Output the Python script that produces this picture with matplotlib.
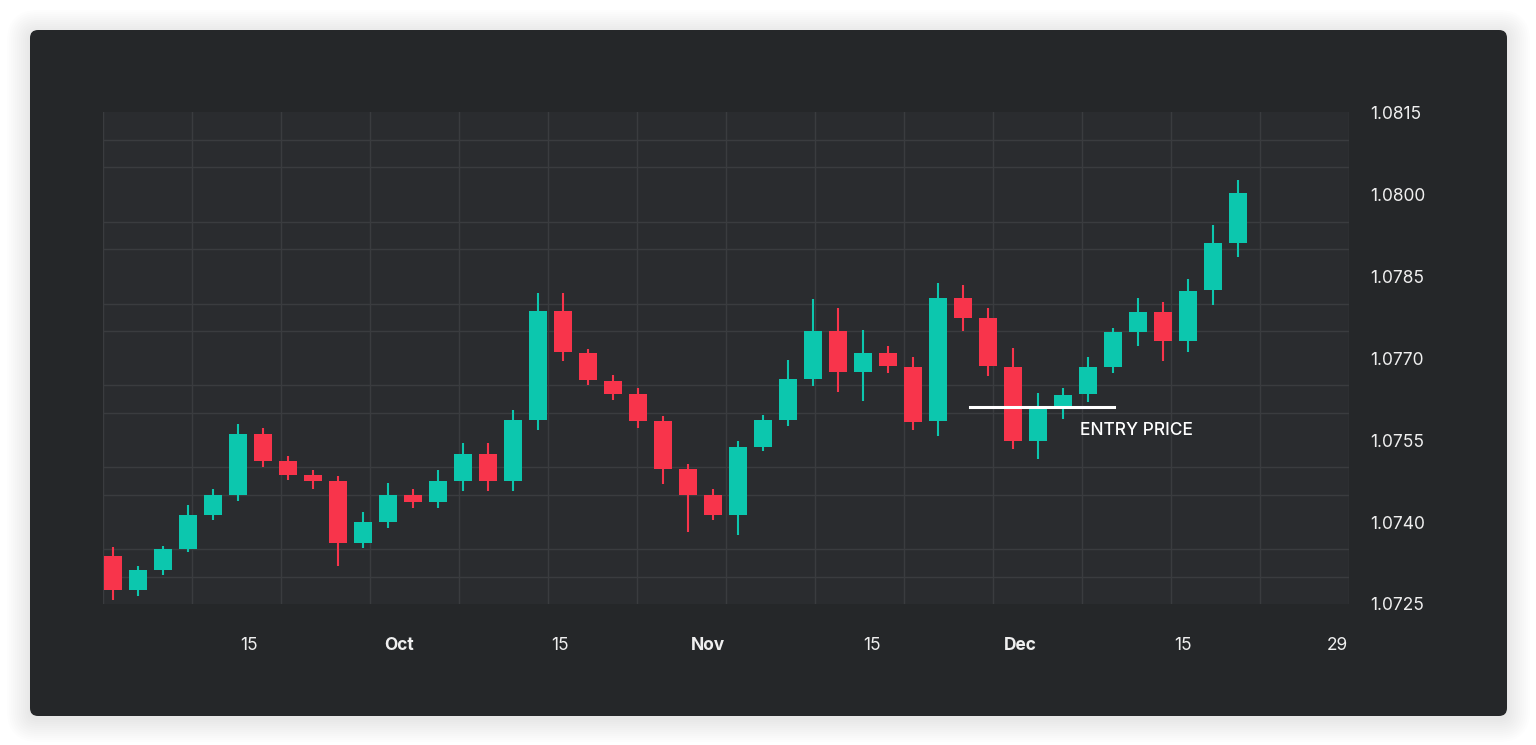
import numpy as np
import matplotlib.pyplot as plt
from matplotlib.patches import FancyBboxPatch

plt.rcParams['font.family'] = ['Inter', 'DejaVu Sans']

# daily candles
opens = [1.07337, 1.07275, 1.07312, 1.07350, 1.07412, 1.07450, 1.07561, 1.07512,
         1.07487, 1.07475, 1.07362, 1.07400, 1.07450, 1.07437, 1.07475, 1.07525,
         1.07475, 1.07587, 1.07786, 1.07709, 1.07659, 1.07635, 1.07585, 1.07498,
         1.07450, 1.07413, 1.07537, 1.07587, 1.07662, 1.07749, 1.07675, 1.07709,
         1.07683, 1.07585, 1.07810, 1.07774, 1.07684, 1.07548, 1.07608, 1.07634,
         1.07684, 1.07747, 1.07784, 1.07731, 1.07824, 1.07910]
highs = [1.07355, 1.07320, 1.07357, 1.07431, 1.07461, 1.07580, 1.07572, 1.07521,
         1.07495, 1.07484, 1.07418, 1.07471, 1.07461, 1.07495, 1.07545, 1.07545,
         1.07606, 1.07819, 1.07819, 1.07717, 1.07669, 1.07646, 1.07594, 1.07506,
         1.07461, 1.07548, 1.07596, 1.07697, 1.07808, 1.07791, 1.07751, 1.07723,
         1.07703, 1.07838, 1.07834, 1.07792, 1.07719, 1.07636, 1.07645, 1.07702,
         1.07755, 1.07811, 1.07803, 1.07845, 1.07944, 1.08026]
lows = [1.07257, 1.07265, 1.07303, 1.07346, 1.07404, 1.07438, 1.07500, 1.07477,
        1.07460, 1.07320, 1.07353, 1.07390, 1.07426, 1.07426, 1.07457, 1.07457,
        1.07457, 1.07568, 1.07694, 1.07650, 1.07623, 1.07573, 1.07470, 1.07382,
        1.07404, 1.07376, 1.07530, 1.07576, 1.07649, 1.07638, 1.07622, 1.07673,
        1.07568, 1.07558, 1.07750, 1.07667, 1.07533, 1.07515, 1.07588, 1.07620,
        1.07672, 1.07722, 1.07695, 1.07712, 1.07797, 1.07885]
closes = [1.07275, 1.07312, 1.07350, 1.07412, 1.07450, 1.07561, 1.07512, 1.07487,
          1.07475, 1.07362, 1.07400, 1.07450, 1.07437, 1.07475, 1.07525, 1.07475,
          1.07587, 1.07786, 1.07712, 1.07660, 1.07635, 1.07585, 1.07498, 1.07450,
          1.07413, 1.07537, 1.07587, 1.07662, 1.07749, 1.07675, 1.07709, 1.07685,
          1.07583, 1.07810, 1.07774, 1.07686, 1.07548, 1.07608, 1.07633, 1.07683,
          1.07747, 1.07784, 1.07731, 1.07823, 1.07910, 1.08003]

date_tick_pos = [5.45, 11.45, 17.9, 23.8, 30.36, 36.3, 42.8, 49.0]
date_tick_labels = ["15", "Oct", "15", "Nov", "15", "Dec", "15", "29"]
price_ticks = [1.0725, 1.0740, 1.0755, 1.0770, 1.0785, 1.0800, 1.0815]

entry_price = 1.07610
entry_from, entry_to = 34.3, 40.05

UP = "#0cc7ae"
DOWN = "#f8344b"

fig = plt.figure(figsize=(15.36, 7.45), dpi=100, facecolor="white")

# soft shadow + dark rounded card
for i in range(12):
    pad = 0.01 + i * 0.02
    fig.patches.append(FancyBboxPatch((0.30 - pad, 0.29 - pad - 0.03), 14.77 + 2 * pad, 6.86 + 2 * pad,
                                      boxstyle="round,pad=0,rounding_size=%.3f" % (0.08 + pad),
                                      transform=fig.dpi_scale_trans, facecolor="black",
                                      edgecolor="none", alpha=0.007, zorder=-20))
fig.patches.append(FancyBboxPatch((0.30, 0.29), 14.77, 6.86,
                                  boxstyle="round,pad=0,rounding_size=0.08",
                                  transform=fig.dpi_scale_trans, facecolor="#252729",
                                  edgecolor="none", zorder=-10))

ax = fig.add_axes([103 / 1536, 1 - 604 / 745, (1349 - 103) / 1536, (604 - 112.3) / 745])
ax.set_facecolor("#2a2c2f")

x = np.arange(len(opens))
o = np.array(opens)
c = np.array(closes)
colors = [UP if cc >= oo else DOWN for oo, cc in zip(o, c)]

ax.vlines(x, lows, highs, colors=colors, linewidth=1.5, zorder=3)
ax.bar(x, np.abs(c - o), bottom=np.minimum(o, c), width=0.7, color=colors, zorder=4)

ax.plot([entry_from, entry_to], [entry_price, entry_price], color="white", linewidth=2.2, zorder=5)
ax.text(38.7, 1.07568, "ENTRY PRICE", color="white", fontsize=12.5, fontweight="medium",
        va="center", ha="left", zorder=6)

x0, x1 = -0.39, 49.45
ax.set_xlim(x0, x1)
ax.set_ylim(1.0725, 1.0815)

ax.set_xticks(date_tick_pos)
ax.set_xticklabels(date_tick_labels)
for lab in ax.get_xticklabels():
    if not lab.get_text().isdigit():
        lab.set_fontweight("bold")
ax.set_xticks(np.linspace(x0, x1, 15), minor=True)

ax.yaxis.tick_right()
ax.set_yticks(price_ticks)
ax.set_yticklabels(["%.4f" % p for p in price_ticks])
ax.set_yticks(np.arange(1.0725, 1.08151, 0.0005), minor=True)

ax.tick_params(axis="both", which="both", length=0, colors="#efefef", labelsize=12.5)
ax.tick_params(axis="x", pad=24)
ax.tick_params(axis="y", pad=15)
ax.grid(True, which="minor", color="#3a3c3f", linewidth=1)
ax.grid(False, which="major")
for s in ax.spines.values():
    s.set_visible(False)

fig.savefig("out.png", dpi=100, facecolor="white")
